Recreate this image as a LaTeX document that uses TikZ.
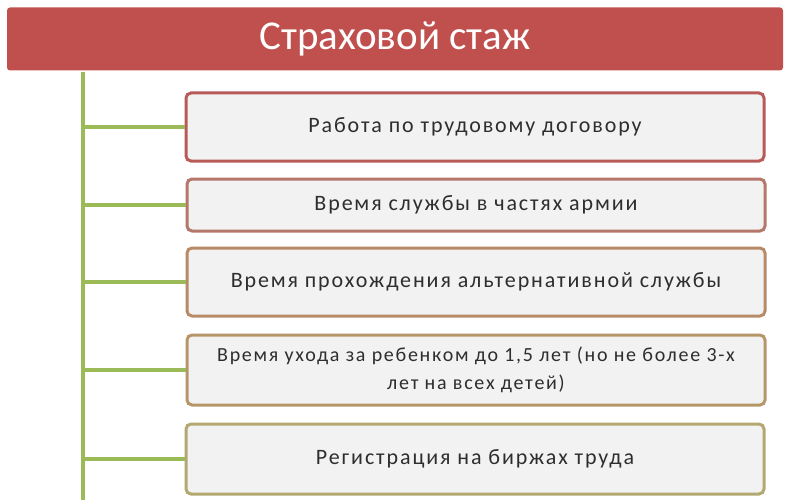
\documentclass[tikz,border=0pt]{standalone}
\usepackage{fontspec}
\setmainfont{Carlito}
\newfontfamily\boxfont[LetterSpace=8.6]{Carlito}
\usetikzlibrary{positioning}
\definecolor{head}{HTML}{C0504D}
\definecolor{trunk}{HTML}{9BBB59}
\definecolor{fillg}{HTML}{F2F2F2}
\definecolor{ink}{HTML}{2E2E2E}
\definecolor{edA}{HTML}{B75A58}
\definecolor{edB}{HTML}{B4776A}
\definecolor{edC}{HTML}{B78A68}
\definecolor{edD}{HTML}{B59668}
\definecolor{edE}{HTML}{B2A870}

\begin{document}
\begin{tikzpicture}[
  x=1pt, y=-1pt,
  hdr/.style={fill=head,rounded corners=3pt,minimum width=776pt,minimum height=63pt,
              inner sep=0pt,text=white,font=\fontsize{41}{44}\selectfont},
  itm/.style={draw,fill=fillg,rounded corners=5pt,line width=3pt,
              minimum width=578pt,inner sep=2pt,align=center,text=ink,
              font=\boxfont\fontsize{22}{28}\selectfont},
  br/.style={trunk,line width=4pt},
]
\useasboundingbox (0,0) rectangle (800,500);

% ------------------------------------------------------------ header
\node[hdr] (top) at (395,39) {Страховой стаж};

% ------------------------------------------------------------- items
\node[itm,draw=edA,minimum height=68pt] (i1) at (475,127) {Работа по трудовому договору};
\node[itm,draw=edB,minimum height=52pt] (i2) at (476,205) {Время службы в частях армии};
\node[itm,draw=edC,minimum height=68pt] (i3) at (476,282) {Время прохождения альтернативной службы};
\node[itm,draw=edD,minimum height=70pt,font=\boxfont\fontsize{20}{28}\selectfont] (i4) at (476,370)
  {Время ухода за ребенком до 1,5 лет (но не более 3-х\\лет на всех детей)};
\node[itm,draw=edE,minimum height=70pt] (i5) at (475,459) {Регистрация на биржах труда};

% ------------------------------------------------------------- trunk
\coordinate (t0) at (83,72);
\coordinate (t1) at (83,500);
\draw[br] (t0) -- (t1);
\foreach \n in {i1,i2,i3,i4,i5}
  \draw[br] (t0 |- \n.west) -- (\n.west);

\end{tikzpicture}
\end{document}
